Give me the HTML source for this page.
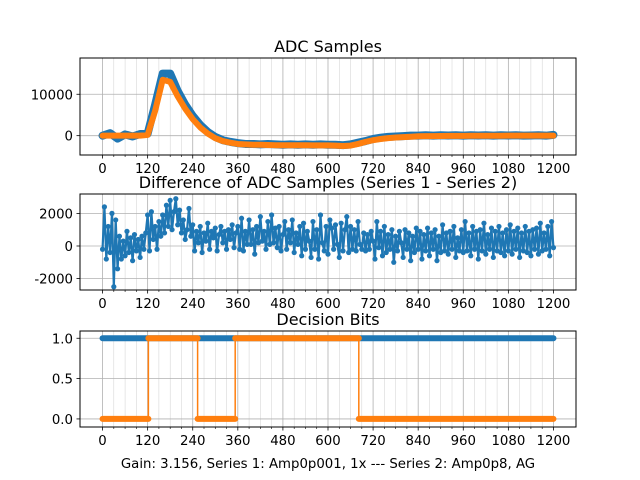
<!DOCTYPE html>
<html><head><meta charset="utf-8"><style>
body{margin:0;background:#fff}
svg{display:block;font-family:"DejaVu Sans","Liberation Sans",sans-serif}
</style></head><body>
<svg id="fig" width="640" height="480" viewBox="0 0 640 480">
<rect width="640" height="480" fill="#fff"/>
</svg>
<script>
// ---- data ----
const xTicks = [0,120,240,360,480,600,720,840,960,1080,1200];
const adcX = [0,20,40,60,80,100,120,140,160,180,200,220,240,260,280,300,320,340,360,380,400,420,440,460,480,500,520,540,560,580,600,620,640,660,680,700,720,740,760,780,800,820,840,860,880,900,920,940,960,980,1000,1020,1040,1060,1080,1100,1120,1140,1160,1180,1200];
const series2 = [0,0,0,0,0,0,200,6000,13500,13000,9500,6500,4000,2000,500,-600,-1300,-1700,-2000,-2100,-2200,-2200,-2250,-2300,-2300,-2300,-2300,-2300,-2350,-2350,-2350,-2400,-2500,-2400,-2000,-1500,-1100,-800,-600,-450,-350,-250,-150,-100,-100,-80,-60,-50,-40,-30,-20,-20,-10,-10,0,0,0,0,0,0,0];
const series1 = [0,600,-700,300,-200,400,500,7500,15000,15000,10800,7500,4800,2600,900,-300,-1100,-1500,-1800,-2000,-2000,-2100,-2000,-2100,-2200,-2100,-2200,-2100,-2200,-2100,-2200,-2200,-2300,-2100,-1700,-1300,-800,-500,-300,-200,-100,0,0,100,0,100,50,100,0,100,50,100,0,100,50,100,0,50,100,0,200];
const adcTicks = [0,10000];
const diffStep = 5;
const diffY = [-200,2400,-800,1200,-400,2000,-2500,1600,-1400,600,-800,300,-600,900,-400,500,-900,700,-300,400,-700,600,-200,800,
1900,-300,2100,400,1200,-200,1500,600,1900,800,2500,1200,2800,1000,2100,2900,1300,2200,800,1600,400,1000,2300,600,
1300,-300,900,200,1200,-400,800,300,1400,-200,900,500,1100,-300,700,1200,200,900,-200,1000,400,1300,-100,800,
1200,-200,1700,-300,900,100,1600,100,1000,-500,1200,200,1800,300,900,-200,1500,100,1900,200,1100,-100,1200,-300,
700,1500,-200,1000,200,1600,-400,800,100,1200,-600,1400,-200,900,300,-700,1500,-200,1000,-800,1900,200,-300,1200,
-500,1600,1100,-200,1300,100,-700,1400,-300,1000,1800,-400,1200,-200,1000,-300,1500,100,-200,800,-300,700,-200,900,
300,-800,1500,-100,900,-600,1200,-400,700,-200,1000,-1000,600,-300,900,200,-700,1000,-200,800,-900,600,-400,1100,
-200,900,-800,700,-300,1100,-600,800,-200,1000,-900,600,-400,1300,-300,800,-500,900,-200,1200,-700,500,-300,1000,
-400,1500,-300,800,-600,1200,-200,900,-800,1000,-300,1400,-500,700,-200,1100,-700,900,-300,1200,-400,800,-600,1000,
-300,1300,-500,900,-200,1100,-700,800,-300,1200,-400,900,-600,1000,-200,1100,-500,1400,-300,800,-200,1200,-600,1500,
-100];
const diffTicks = [-2000,0,2000];
const bitsTicks = [0,0.5,1];
const blueBitsX = [0,1200];
const blueBitsY = [1,1];
const orangeBitsX = [0,122,122,253,253,353,353,682,682,1200];
const orangeBitsY = [0,0,1,1,0,0,1,1,0,0];

const NS="http://www.w3.org/2000/svg";
const fig=document.getElementById('fig');
const BLUE="#1f77b4", ORANGE="#ff7f0e";
function mk(tag,attrs,parent){const e=document.createElementNS(NS,tag);for(const k in attrs)e.setAttribute(k,attrs[k]);(parent||fig).appendChild(e);return e;}
const L=80,R=576;
const sx=v=>L+(v+60)/1320*(R-L);

function axes(name,top,bot,ymin,ymax,yt,title){
  const g=mk('g',{});
  
  
  const sy=v=>bot-(v-ymin)/(ymax-ymin)*(bot-top);
  for(let m=0;m<=1200;m+=30){ if(m%120) { const l=mk('line',{x1:sx(m),x2:sx(m),y1:top,y2:bot,stroke:'#b0b0b0','stroke-width':0.5,'stroke-opacity':0.6},g);   } }
  xTicks.forEach(t=>{const l=mk('line',{x1:sx(t),x2:sx(t),y1:top,y2:bot,stroke:'#b0b0b0','stroke-width':0.8},g);  });
  yt.forEach(t=>{const l=mk('line',{x1:L,x2:R,y1:sy(t),y2:sy(t),stroke:'#b0b0b0','stroke-width':0.8},g);  });
  const tt=mk('text',{x:(L+R)/2,y:top-6,'text-anchor':'middle','font-size':16,fill:'#000'},g);
  tt.textContent=title;
  
  
  return {g,sy,top,bot};
}
function frame(a){
  const r=mk('rect',{x:L,y:a.top,width:R-L,height:a.bot-a.top,fill:'none',stroke:'#000','stroke-width':1},a.g);
  
  
  xTicks.forEach(t=>{mk('line',{x1:sx(t),x2:sx(t),y1:a.bot,y2:a.bot+3.5,stroke:'#000','stroke-width':0.8},a.g);
    const tx=mk('text',{x:sx(t),y:a.bot+18,'text-anchor':'middle','font-size':13.3,fill:'#000'},a.g);tx.textContent=t;
    
    });
  for(let m=0;m<=1200;m+=30){ if(m%120) mk('line',{x1:sx(m),x2:sx(m),y1:a.bot,y2:a.bot+2,stroke:'#000','stroke-width':0.6},a.g);}
}
function yticks(a,yt,fmt){
  yt.forEach(t=>{mk('line',{x1:L-3.5,x2:L,y1:a.sy(t),y2:a.sy(t),stroke:'#000','stroke-width':0.8},a.g);
    const tx=mk('text',{x:L-7,y:a.sy(t)+5,'text-anchor':'end','font-size':13.3,fill:'#000'},a.g);tx.textContent=fmt(t);
    
    });
}
function series(a,xs,ys,color,lw,mr,name){
  const pts=xs.map((x,i)=>sx(x)+','+a.sy(ys[i])).join(' ');
  const p=mk('polyline',{points:pts,fill:'none',stroke:color,'stroke-width':lw,'stroke-linejoin':'round','stroke-linecap':'round'},a.g);
  
  
  if(mr) xs.forEach((x,i)=>{const c=mk('circle',{cx:sx(x),cy:a.sy(ys[i]),r:mr,fill:color},a.g);
    
    });
}

// ADC samples
const a1=axes('adc-samples-axes',58,155,-4670,18760,adcTicks,'ADC Samples');
series(a1,adcX,series1,BLUE,8,3.2,'series-1-line');
series(a1,adcX,series2,ORANGE,6,0,'series-2-line');
frame(a1);yticks(a1,adcTicks,t=>String(t));

// difference
const a2=axes('difference-axes',194,290,-2700,3190,diffTicks,'Difference of ADC Samples (Series 1 - Series 2)');
const diffX = diffY.map((v,i)=>i*diffStep);
series(a2,diffX,diffY,BLUE,2.2,2.6,'difference-line');
frame(a2);yticks(a2,diffTicks,t=>String(t));

// decision bits
const a3=axes('decision-bits-axes',331,427,-0.1,1.09,bitsTicks,'Decision Bits');
series(a3,blueBitsX,blueBitsY,BLUE,6,0,'series-1-bits');
series(a3,orangeBitsX,orangeBitsY,ORANGE,1.5,0,'series-2-bits-step');
for(let i=0;i<orangeBitsX.length;i+=2){
  const l=mk('line',{x1:sx(orangeBitsX[i]),x2:sx(orangeBitsX[i+1]),y1:a3.sy(orangeBitsY[i]),y2:a3.sy(orangeBitsY[i+1]),stroke:ORANGE,'stroke-width':6,'stroke-linecap':'round'},a3.g);
  
  
}
frame(a3);yticks(a3,bitsTicks,t=>t.toFixed(1));

const xl=mk('text',{x:(L+R)/2,y:468,'text-anchor':'middle','font-size':13.3,fill:'#000'});
xl.textContent='Gain: 3.156, Series 1: Amp0p001, 1x --- Series 2: Amp0p8, AG';


</script>
</body></html>
